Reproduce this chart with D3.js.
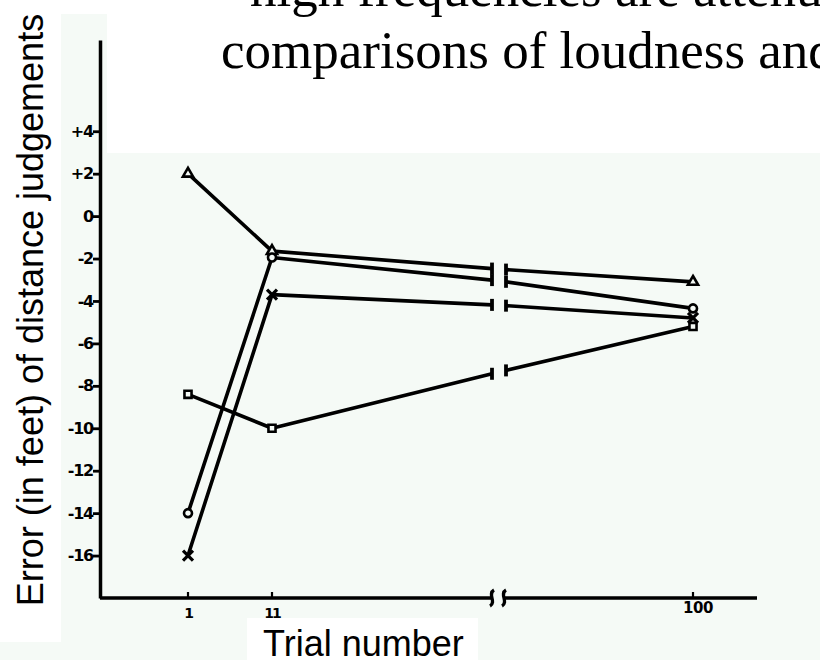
<!DOCTYPE html>
<html><head><meta charset="utf-8">
<script src="https://cdn.jsdelivr.net/npm/d3@7"></script>
<style>html,body{margin:0;padding:0;background:#fff;} svg{display:block;}</style>
</head><body><svg id="chart" width="820" height="660"></svg>
<script>
// ---- data ----
const trials = ["1", "11", "break", "100"];
const trialLabels = ["1", "11", "", "100"];
const yTicks = [4, 2, 0, -2, -4, -6, -8, -10, -12, -14, -16];
const yTickLabels = ["+4", "+2", "0", "-2", "-4", "-6", "-8", "-10", "-12", "-14", "-16"];
const triangleSeries = [2, -1.65, -2.5, -3.1];
const circleSeries = [-14, -1.95, -3.05, -4.35];
const crossSeries = [-16, -3.7, -4.2, -4.8];
const squareSeries = [-8.4, -10, -7.35, -5.2];
const seriesMarkers = ["triangle", "circle", "cross", "square"];
const titleLines = ["high frequencies are attenuated more than low,", "comparisons of loudness and distance"];
const yTitle = "Error (in feet) of distance judgements";
const xTitle = "Trial number";

// ---- layout ----
const W = 820, H = 660;
const tint = "#f5faf6";
const svg = d3.select("#chart");

const x = d3.scaleOrdinal().domain(trials).range([188, 272, 499, 693]);
const xExtent = [100, 757];
const y = d3.scaleLinear().domain([-18, 8.3]).range([598, 40]);
const gap = 7;

// backgrounds
svg.append("rect").attr("x", 0).attr("y", 0).attr("width", W).attr("height", H).attr("fill", tint);
svg.append("rect").attr("x", 0).attr("y", 0).attr("width", 61).attr("height", 642).attr("fill", "#fff");
svg.append("rect").attr("x", 61).attr("y", 0).attr("width", 46).attr("height", 14).attr("fill", "#fff");
svg.append("rect").attr("x", 107).attr("y", 0).attr("width", W - 107).attr("height", 153).attr("fill", "#fff");
svg.append("rect").attr("x", 247).attr("y", 618).attr("width", 231).attr("height", 42).attr("fill", "#fff");

// overlaid serif text
svg.append("text").attr("x", 250).attr("y", 6).attr("font-family", "Liberation Serif, Times New Roman, serif")
  .attr("font-size", 53).attr("fill", "#000").text(titleLines[0]);
svg.append("text").attr("x", 221).attr("y", 68).attr("font-family", "Liberation Serif, Times New Roman, serif")
  .attr("font-size", 53).attr("fill", "#000").text(titleLines[1]);

// axis titles
svg.append("text").attr("transform", "translate(43,310) rotate(-90)").attr("text-anchor", "middle")
  .attr("font-family", "Liberation Sans, Arial, sans-serif").attr("font-size", 36).attr("fill", "#000").text(yTitle);
svg.append("text").attr("x", 263).attr("y", 656)
  .attr("font-family", "Liberation Sans, Arial, sans-serif").attr("font-size", 36).attr("fill", "#000").text(xTitle);

const tickFont = "DejaVu Sans, sans-serif";

// y axis
const yAxis = svg.append("g").attr("transform", "translate(100,0)")
  .call(d3.axisLeft(y).tickValues(yTicks).tickFormat((d, i) => yTickLabels[i]).tickSize(7).tickSizeOuter(0).tickPadding(0));
yAxis.select(".domain").attr("stroke", "#000").attr("stroke-width", 3.5);
yAxis.selectAll(".tick line").attr("stroke", "#000").attr("stroke-width", 2.8);
yAxis.selectAll(".tick text").attr("font-family", tickFont).attr("font-weight", "bold").attr("font-size", 16)
  .attr("letter-spacing", -1.2).attr("fill", "#000");

// x axis
const axY = y(-18);
const xb = x("break");
const xAxis = svg.append("g");
xAxis.append("path").attr("d", `M${xExtent[0]},${axY}H${xb - 8}M${xb + 6},${axY}H${xExtent[1]}`)
  .attr("stroke", "#000").attr("stroke-width", 3.5).attr("fill", "none");
[xb - 7, xb + 5].forEach(cx => {
  xAxis.append("path").attr("d", `M${cx + 2},${axY - 8} C${cx - 5},${axY - 4} ${cx + 5},${axY + 4} ${cx - 2},${axY + 8}`)
    .attr("stroke", "#000").attr("stroke-width", 3.2).attr("fill", "none");
});
trials.forEach((t, i) => {
  if (!trialLabels[i]) return;
  xAxis.append("line").attr("x1", x(t)).attr("x2", x(t)).attr("y1", axY).attr("y2", axY - 6)
    .attr("stroke", "#000").attr("stroke-width", 2.2);
  xAxis.append("text").attr("x", x(t) + (t === "100" ? 5 : 0)).attr("y", axY + (t === "100" ? 15 : 20)).attr("text-anchor", "middle")
    .attr("font-family", tickFont).attr("font-weight", "bold").attr("font-size", t === "100" ? 15 : 14)
    .attr("letter-spacing", t === "100" ? -0.5 : -2).attr("fill", "#000")
    .text(trialLabels[i]);
});

// series lines with a break
const allSeries = [triangleSeries, circleSeries, crossSeries, squareSeries];
const line = d3.line();
const plot = svg.append("g");
function lerp(a, b, xv) { return a[1] + (b[1] - a[1]) * (xv - a[0]) / (b[0] - a[0]); }
allSeries.forEach((vals, si) => {
  const pts = trials.map((t, i) => [x(t), y(vals[i])]);
  const bl = [xb - gap, lerp(pts[1], pts[2], xb - gap)];
  const br = [xb + gap, lerp(pts[2], pts[3], xb + gap)];
  plot.append("path").attr("d", line([pts[0], pts[1], bl])).attr("fill", "none")
    .attr("stroke", "#000").attr("stroke-width", 3.6).attr("stroke-linejoin", "round");
  plot.append("path").attr("d", line([br, pts[3]])).attr("fill", "none")
    .attr("stroke", "#000").attr("stroke-width", 3.6);
  [bl, br].forEach(p => {
    plot.append("line").attr("x1", p[0]).attr("x2", p[0]).attr("y1", p[1] - 6).attr("y2", p[1] + 6)
      .attr("stroke", "#000").attr("stroke-width", 3.8);
  });
  // markers
  [0, 1, 3].forEach(i => {
    const [px, py] = pts[i];
    const m = seriesMarkers[si];
    const g = plot.append("g").attr("transform", `translate(${px},${py})`);
    if (m === "triangle") {
      g.append("path").attr("d", d3.symbol(d3.symbolTriangle, 45)()).attr("fill", tint).attr("stroke", "#000").attr("stroke-width", 2.6);
    } else if (m === "circle") {
      g.append("circle").attr("r", 4).attr("fill", tint).attr("stroke", "#000").attr("stroke-width", 2.6);
    } else if (m === "square") {
      g.append("path").attr("d", d3.symbol(d3.symbolSquare, 50)()).attr("fill", tint).attr("stroke", "#000").attr("stroke-width", 2.6);
    } else {
      g.append("path").attr("d", "M-5,-5L5,5M-5,5L5,-5").attr("stroke", "#000").attr("stroke-width", 3.2);
    }
  });
});
</script>
</body></html>
